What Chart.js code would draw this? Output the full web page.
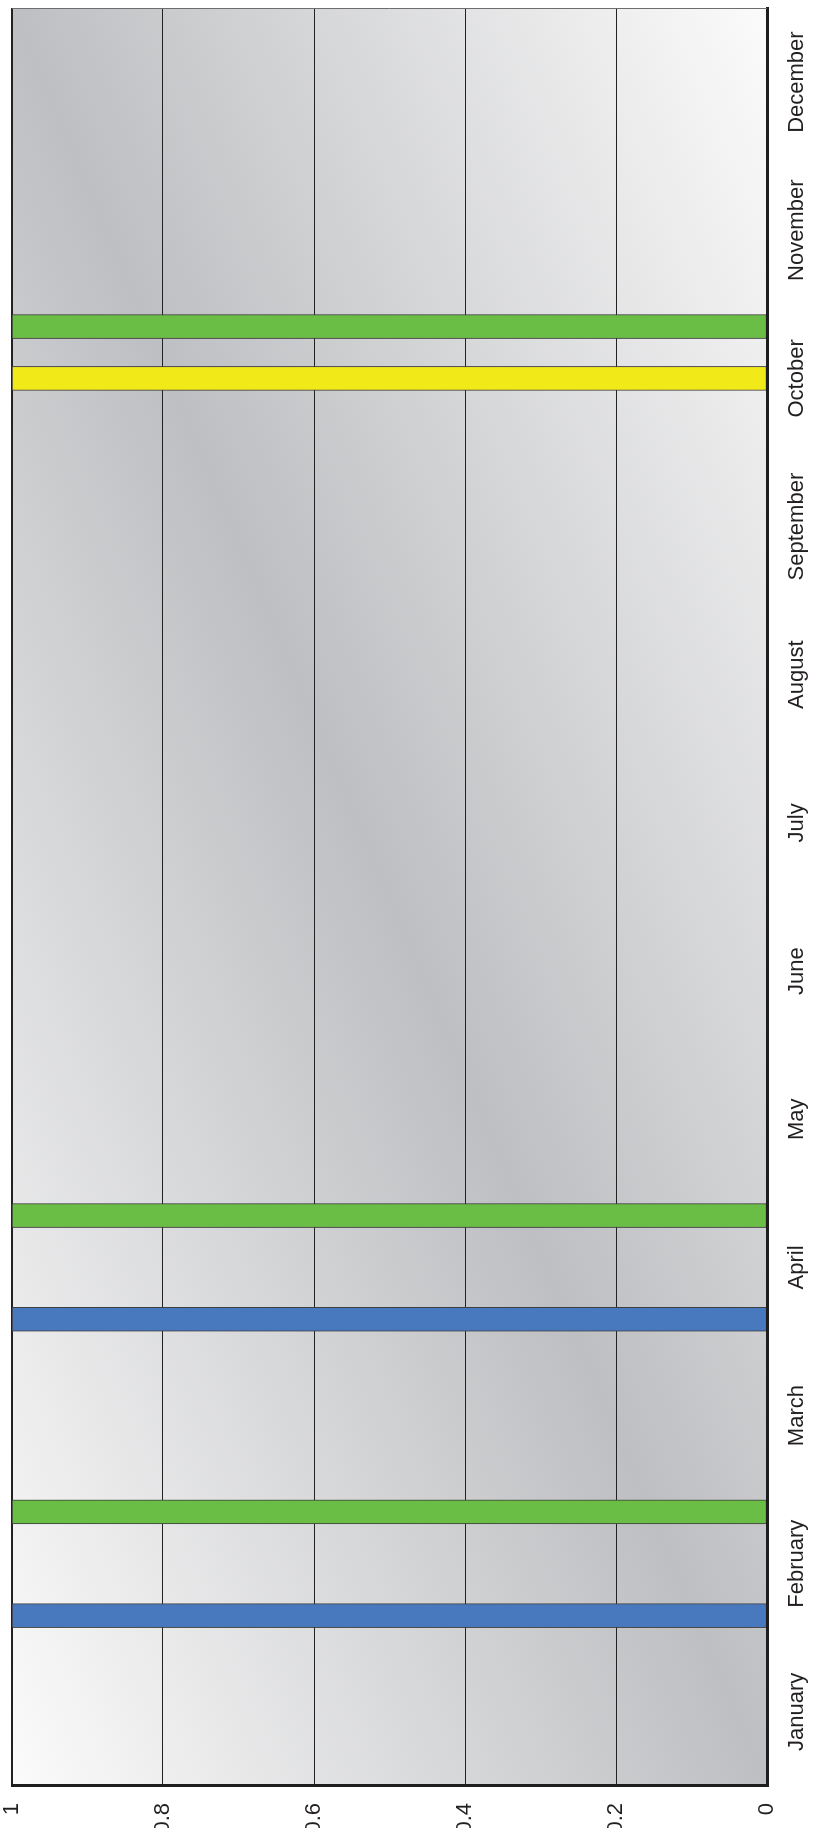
<!DOCTYPE html>
<html>
<head>
<meta charset="utf-8">
<title>Events by month</title>
<script src="https://cdn.jsdelivr.net/npm/chart.js@4"></script>
<style>
    html, body {
        margin: 0;
        padding: 0;
        background: #ffffff;
        overflow: hidden;
        width: 817px;
        height: 1828px;
    }

    /* chart is drawn landscape, then turned a quarter to the left */
    #wrap {
        position: absolute;
        left: 0;
        top: 0;
        width: 1828px;
        height: 817px;
        transform-origin: 0 0;
        transform: translate(0px, 1828px) rotate(-90deg);
    }
</style>
</head>
<body>

<div id="wrap">
    <canvas id="eventChart" width="1828" height="817"></canvas>
</div>

<script>
// ===============================
// DATA
// ===============================

const months = [
    "January", "February", "March", "April", "May", "June",
    "July", "August", "September", "October", "November", "December"
];

// event positions in months from 1 January (1.15 = early February)
const blueEvents = [1.15, 3.15];

const greenEvents = [1.85, 3.85, 9.85];

const yellowEvents = [9.5];

const valueTicks = [0, 0.2, 0.4, 0.6, 0.8, 1];

const valueLabels = ["0", "0.2", "0.4", "0.6", "0.8", "1"];

const eventHeight = 1;

// ===============================
// STYLE
// ===============================

const BLUE = "#4879be";
const GREEN = "#6abd45";
const YELLOW = "#f2ea18";
const INK = "#231f20";

Chart.defaults.font.family = "'Liberation Sans', Arial, sans-serif";
Chart.defaults.font.size = 22;
Chart.defaults.color = INK;

// ===============================
// BUILD POINTS
// ===============================

const points = [];

blueEvents.forEach(m => points.push({ x: m, y: eventHeight, c: BLUE }));
greenEvents.forEach(m => points.push({ x: m, y: eventHeight, c: GREEN }));
yellowEvents.forEach(m => points.push({ x: m, y: eventHeight, c: YELLOW }));

// ===============================
// BACKGROUND + FRAME
// ===============================

const plotShade = {

    id: "plotShade",

    beforeDraw(chart) {

        const a = chart.chartArea;
        const ctx = chart.ctx;

        const w = a.right - a.left;
        const h = a.bottom - a.top;

        // light -> dark -> light, bands running along the other diagonal
        const k = 2 * w * h / (w * w + h * h);

        const g = ctx.createLinearGradient(
            a.left, a.top,
            a.left + h * k, a.top + w * k
        );

        g.addColorStop(0, "#fbfbfb");
        g.addColorStop(0.5, "#bebfc2");
        g.addColorStop(1, "#fbfbfb");

        ctx.save();
        ctx.fillStyle = g;
        ctx.fillRect(a.left, a.top, w, h);
        ctx.restore();
    },

    afterDraw(chart) {

        const a = chart.chartArea;
        const ctx = chart.ctx;

        ctx.save();
        ctx.strokeStyle = "#6d6d6d";
        ctx.lineWidth = 1;
        ctx.beginPath();
        ctx.moveTo(a.right - 0.5, a.top);
        ctx.lineTo(a.right - 0.5, a.bottom);
        ctx.stroke();
        ctx.restore();
    }
};

// ===============================
// CHART
// ===============================

new Chart(document.getElementById("eventChart"), {

    type: "bar",

    data: {

        datasets: [{

            label: "Events",

            data: points,

            backgroundColor: ctx => ctx.raw ? ctx.raw.c : BLUE,

            borderColor: "#3c3c3c",

            borderWidth: 1,

            borderSkipped: false,

            barThickness: 24
        }]
    },

    options: {

        responsive: false,

        animation: false,

        layout: {
            padding: { top: 12, right: 8, left: 0, bottom: 0 }
        },

        plugins: {
            legend: { display: false },
            tooltip: { enabled: false }
        },

        scales: {

            x: {

                type: "linear",

                min: 0,

                max: months.length,

                offset: false,

                grid: { display: false, drawTicks: false },

                border: { display: true, color: "#1e1e1e", width: 3, z: 1 },

                afterBuildTicks: scale => {
                    scale.ticks = months.map((m, i) => ({ value: i + 0.5 }));
                },

                afterFit: scale => {
                    scale.height = 50;
                    scale.paddingLeft = 0;
                    scale.paddingRight = 0;
                },

                ticks: {
                    autoSkip: false,
                    maxRotation: 0,
                    minRotation: 0,
                    padding: 17,
                    color: INK,
                    callback: (v, i) => months[i]
                }
            },

            y: {

                min: 0,

                max: 1,

                grid: {
                    drawTicks: false,
                    color: "#222222",
                    lineWidth: ctx => (ctx.tick && ctx.tick.value === 1) ? 2 : 1
                },

                border: { display: true, color: "#1e1e1e", width: 3, z: 1 },

                afterBuildTicks: scale => {
                    scale.ticks = valueTicks.map(v => ({ value: v }));
                },

                afterFit: scale => {
                    scale.width = 42;
                    scale.paddingTop = 0;
                    scale.paddingBottom = 0;
                },

                ticks: {
                    padding: 17,
                    color: INK,
                    callback: (v, i) => valueLabels[i]
                }
            }
        }
    },

    plugins: [plotShade]
});
</script>

</body>
</html>
